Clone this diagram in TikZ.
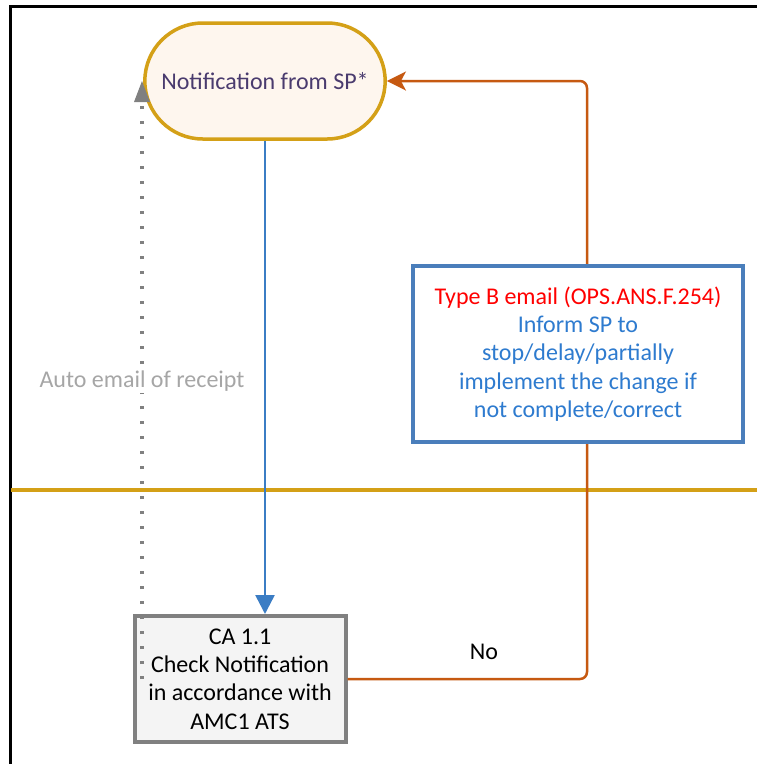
\documentclass[tikz,border=0pt]{standalone}
\usepackage{fontspec}
\setmainfont{Carlito}
\usetikzlibrary{shapes.misc,arrows.meta}
\definecolor{goldc}{HTML}{D4A017}
\definecolor{creamc}{HTML}{FEF6EE}
\definecolor{purpc}{HTML}{4A3B6E}
\definecolor{bluec}{HTML}{3B7DC4}
\definecolor{grayb}{HTML}{808080}
\definecolor{grayf}{HTML}{F4F4F4}
\definecolor{orangec}{HTML}{C65911}
\definecolor{boxblue}{HTML}{4A7EBB}
\definecolor{txtblue}{HTML}{2E7BCF}
\definecolor{txtgray}{HTML}{A6A6A6}
\tikzset{
  basefont/.style={font=\fontsize{24}{28.3}\selectfont},
  startbox/.style={rounded rectangle, draw=goldc, line width=3.5pt, fill=creamc,
    minimum width=247pt, minimum height=116pt, text=purpc, basefont},
  checkbox/.style={rectangle, draw=grayb, line width=4pt, fill=grayf,
    minimum width=211pt, minimum height=126pt, align=center, basefont, inner sep=1pt},
  infobox/.style={rectangle, draw=boxblue, line width=4pt, fill=white,
    minimum width=330pt, minimum height=176pt, align=center, basefont, text=txtblue, inner sep=1pt},
  bluearrow/.style={draw=bluec, line width=2.5pt, -{Triangle[width=19pt,length=19pt]}},
  orangearrow/.style={draw=orangec, line width=2.5pt, rounded corners=7pt,
    -{Stealth[width=19pt,length=19pt,inset=5pt]}},
  autoarrow/.style={draw=grayb, line width=3.5pt, dash pattern=on 3.5pt off 11.5pt,
    -{Triangle[width=16pt,length=21pt,line width=0pt,fill=grayb]}},
  lbl/.style={basefont},
}
\begin{document}
\begin{tikzpicture}[x=1pt,y=-1pt]
\useasboundingbox (0,0) rectangle (757,764);
\fill[white] (0,0) rectangle (757,764);
% frame
\draw[black, line width=3pt] (10,764) -- (10,6) -- (757,6);
% lane divider
\draw[goldc, line width=3.5pt] (11,490) -- (757,490);
% nodes
\node[startbox] (notif) at (265,81) {Notification from SP*};
\node[checkbox] (ca) at (240,679) {CA 1.1\\Check Notification\\in accordance with\\AMC1 ATS};
% connectors
\draw[bluearrow] (notif.south) -- (notif.south |- ca.north);
\coordinate (ocorner) at (587,81);
\draw[orangearrow] (ca.east) -| (ocorner) -- (notif.east);
\node[infobox] (typeb) at (578,354) {\textcolor{red}{Type B email (OPS.ANS.F.254)}\\Inform SP to\\stop/delay/partially\\implement the change if\\not complete/correct};
\coordinate (autostart) at (142,679);
\draw[autoarrow] (autostart) -- (autostart |- notif.west);
\node[lbl, text=txtgray, fill=white, inner sep=2pt] (autolbl) at (142,381) {Auto email of receipt};
\node[lbl] (nolbl) at (484,652) {No};
\end{tikzpicture}
\end{document}
